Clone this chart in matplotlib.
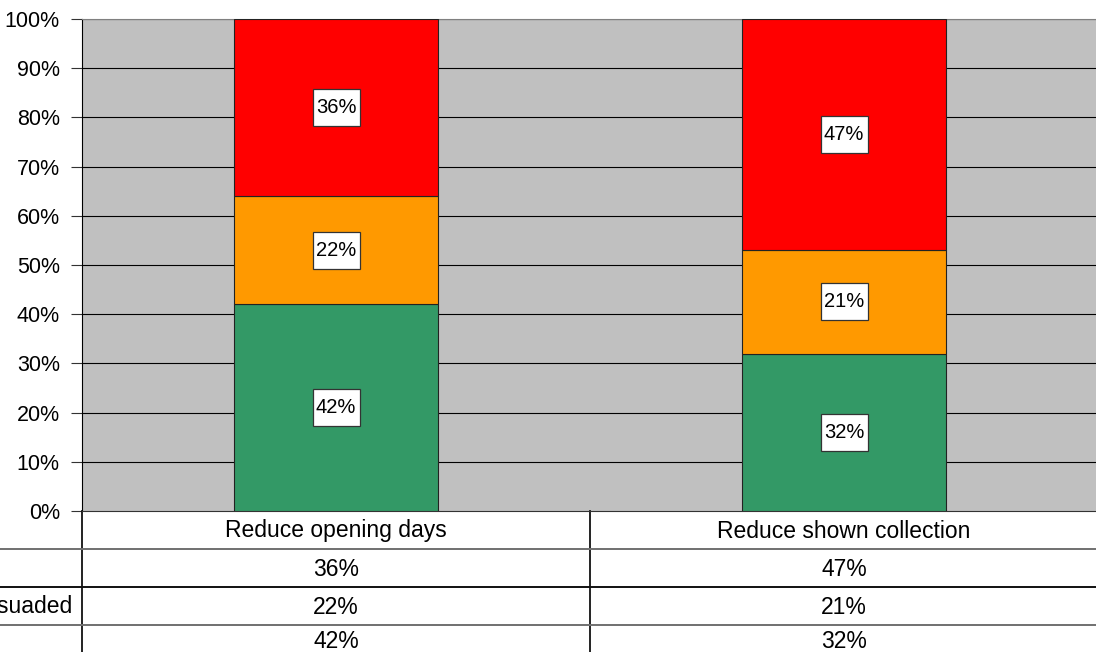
import matplotlib
matplotlib.use("Agg")
import matplotlib.pyplot as plt
from matplotlib.patches import Rectangle
from matplotlib.transforms import blended_transform_factory

plt.rcParams['font.family'] = ['Liberation Sans', 'DejaVu Sans']

categories = ['Reduce opening days', 'Reduce shown collection']
series_names = ['Against', 'Could be persuaded', 'In favour']  # rows of the data table (top to bottom)
red_vals = [36, 47]
orange_vals = [22, 21]
green_vals = [42, 32]
colors = {'red': '#FF0000', 'orange': '#FF9900', 'green': '#339966'}
yticks = list(range(0, 101, 10))

W, H = 1096, 652
fig = plt.figure(figsize=(W / 100, H / 100), dpi=100)
ax = fig.add_axes([82 / W, 141 / H, 1016 / W, 492 / H])
ax.set_facecolor('#C0C0C0')
ax.set_xlim(-0.5, 1.5)
ax.set_ylim(0, 100)

x = list(range(len(categories)))
bw = 0.40
box_w = 47 / 508   # label box size, in data units
box_h = 37 / 4.92
stacks = [(green_vals, colors['green']), (orange_vals, colors['orange']), (red_vals, colors['red'])]
bottom = [0] * len(categories)
for vals, col in stacks:
    ax.bar(x, vals, bw, bottom=bottom, color=col, edgecolor='#222222', linewidth=0.8, zorder=3)
    for xi, v, b in zip(x, vals, bottom):
        yc = b + v / 2
        ax.add_patch(Rectangle((xi - box_w / 2, yc - box_h / 2), box_w, box_h, facecolor='white',
                               edgecolor='#333333', linewidth=0.9, zorder=4))
        ax.text(xi, yc, f'{v}%', ha='center', va='center', fontsize=14.5, zorder=5)
    bottom = [b + v for b, v in zip(bottom, vals)]

ax.set_yticks(yticks)
ax.set_yticklabels([f'{t}%' for t in yticks], fontsize=15.5)
ax.tick_params(axis='y', length=8, width=0.8, pad=8, color='#333333')
ax.set_xticks([])
for t in yticks[1:]:
    ax.axhline(t, color='black', linewidth=0.8, zorder=1)
ax.spines['left'].set_color('black')
ax.spines['bottom'].set_color('#333333')
ax.spines['top'].set_color('#808080')
ax.spines['right'].set_visible(False)

# data table below the chart
trans = blended_transform_factory(ax.transData, fig.transFigure)
def fy(py):
    return (H - py) / H

row_lines = [549, 587, 625]
row_centers = [569, 607, 641]
fs_tab = 16.5
for xi, cat in zip(x, categories):
    ax.text(xi, fy(531), cat, transform=trans, ha='center', va='center', fontsize=fs_tab, clip_on=False)
rows = [red_vals, orange_vals, green_vals]
row_y = [fy(c) for c in row_centers]
for vals, yc in zip(rows, row_y):
    for xi, v in zip(x, vals):
        ax.text(xi, yc, f'{v}%', transform=trans, ha='center', va='center', fontsize=fs_tab, clip_on=False)

# row labels share a left edge; the longest one ends at x=72 px, the rest run off the left edge
ref = fig.text(72 / W, row_y[1], series_names[1], ha='right', va='center', fontsize=fs_tab)
fig.canvas.draw()
x0 = ref.get_window_extent().x0 / W
ref.remove()
for name, yc in zip(series_names, row_y):
    fig.text(x0, yc, name, ha='left', va='center', fontsize=fs_tab)

for py, col in zip(row_lines, ['#707070', '#111111', '#707070']):
    fig.add_artist(plt.Line2D([0, 1], [fy(py), fy(py)], color=col, linewidth=1.4, transform=fig.transFigure))
for xv in [-0.5, 0.5]:
    ax.plot([xv, xv], [fy(511), 0], transform=trans, color='#111111', linewidth=1.3, clip_on=False)

fig.savefig('out.png', dpi=100)
